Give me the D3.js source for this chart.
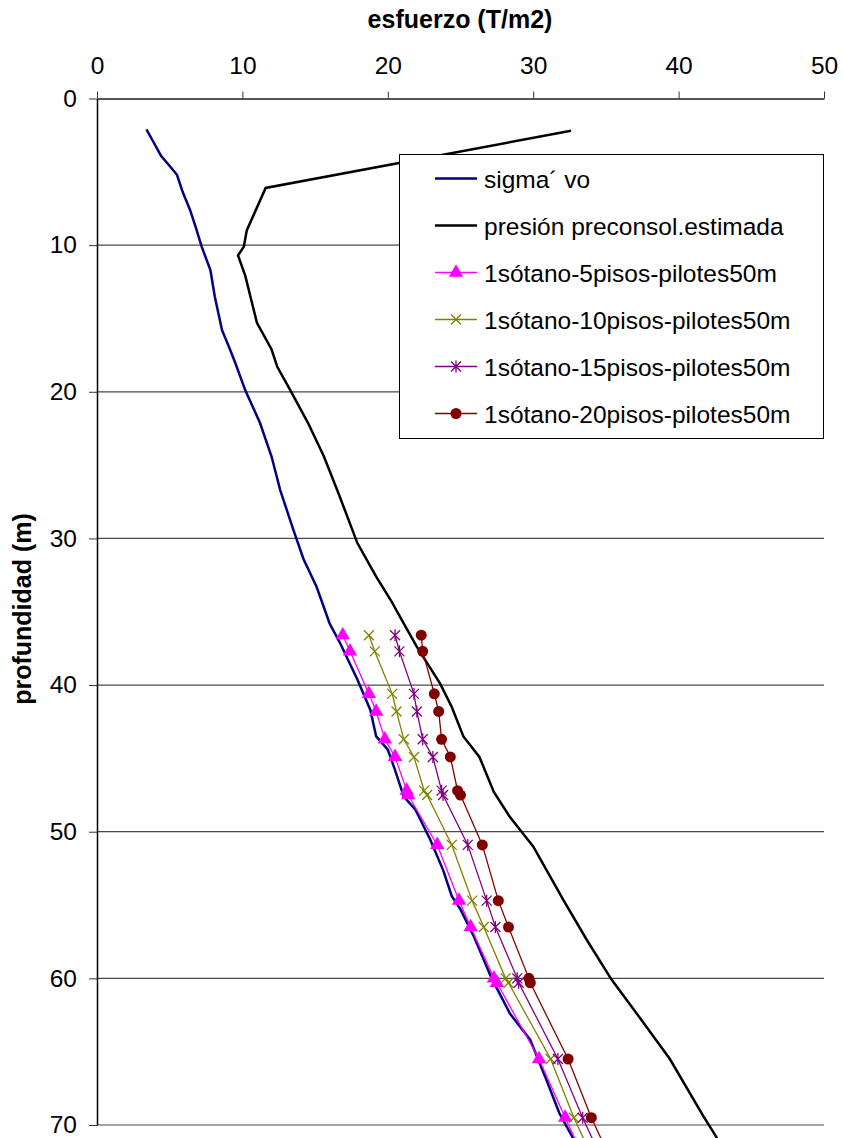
<!DOCTYPE html>
<html><head><meta charset="utf-8">
<script src="https://cdn.jsdelivr.net/npm/d3@7"></script>
<style>body{margin:0;background:#fff}svg{display:block}text{font-family:"Liberation Sans",Arial,sans-serif}</style>
</head><body><svg id="c" width="843" height="1138"></svg>
<script>
const xTicks = [0, 10, 20, 30, 40, 50];
const yTicks = [0, 10, 20, 30, 40, 50, 60, 70];
const xTitle = "esfuerzo (T/m2)";
const yTitle = "profundidad (m)";

const sigmaDepth = [2.1, 3.0, 3.9, 4.6, 5.2, 6.4, 7.6, 8.8, 10.1, 11.7, 13.5, 15.8, 17.0, 18.0, 19.9, 22.1, 24.4, 26.7, 29.4, 31.4, 33.3, 35.8, 37.1, 39.6, 41.7, 43.5, 44.4, 45.8, 47.6, 48.5, 50.5, 52.6, 54.4, 55.3, 57.1, 59.9, 62.4, 64.2, 66.9, 69.2, 71.0, 72.5];
const sigmaVal   = [3.4, 3.9, 4.4, 5.0, 5.5, 5.9, 6.4, 6.8, 7.2, 7.8, 8.1, 8.6, 9.1, 9.5, 10.2, 11.2, 12.0, 12.6, 13.5, 14.2, 15.1, 16.0, 16.7, 17.9, 18.8, 19.2, 20.0, 20.5, 21.1, 21.9, 22.9, 23.8, 24.4, 25.0, 25.9, 27.1, 28.4, 29.8, 30.9, 31.8, 32.8, 33.6];

const preDepth = [2.2, 6.1, 9.0, 10.1, 10.7, 12.1, 15.3, 17.1, 18.3, 19.9, 22.1, 24.4, 26.9, 30.3, 32.6, 34.2, 35.1, 37.4, 39.9, 41.5, 43.5, 44.9, 47.3, 49.0, 51.0, 54.7, 57.4, 60.1, 62.1, 65.5, 69.4, 70.5, 72.5];
const preVal   = [32.6, 11.6, 10.3, 10.1, 9.7, 10.2, 11.0, 12.0, 12.4, 13.3, 14.5, 15.6, 16.6, 17.9, 19.2, 20.2, 20.7, 22.0, 23.6, 24.4, 25.2, 26.3, 27.3, 28.4, 30.0, 32.1, 33.7, 35.4, 36.9, 39.4, 41.7, 42.4, 43.6];

const seriesDepth = [36.6, 37.7, 40.6, 41.8, 43.7, 44.9, 47.2, 47.5, 50.9, 54.7, 56.5, 60.0, 60.3, 65.5, 69.5, 72.5];
const s5pisos  = [16.9, 17.4, 18.7, 19.2, 19.8, 20.5, 21.3, 21.4, 23.4, 24.9, 25.7, 27.3, 27.5, 30.4, 32.2, 33.6];
const s10pisos = [18.7, 19.1, 20.3, 20.6, 21.1, 21.8, 22.5, 22.7, 24.4, 25.8, 26.6, 28.1, 28.3, 31.2, 32.8, 34.2];
const s15pisos = [20.5, 20.8, 21.8, 22.0, 22.4, 23.1, 23.7, 23.8, 25.5, 26.8, 27.4, 28.9, 29.0, 31.7, 33.4, 34.8];
const s20pisos = [22.3, 22.4, 23.2, 23.5, 23.7, 24.3, 24.8, 25.0, 26.5, 27.6, 28.3, 29.7, 29.8, 32.4, 34.0, 35.4];

const seriesNames = ["sigma´ vo", "presión preconsol.estimada", "1sótano-5pisos-pilotes50m", "1sótano-10pisos-pilotes50m", "1sótano-15pisos-pilotes50m", "1sótano-20pisos-pilotes50m"];

const svg = d3.select("#c");
const x = d3.scaleLinear().domain([0, 50]).range([97, 824]);
const y = d3.scaleLinear().domain([0, 70]).range([98.5, 1125]);

// gridlines
svg.append("g").selectAll("line").data(yTicks.filter(d => d > 0)).join("line")
  .attr("x1", x(0)).attr("x2", x(50)).attr("y1", d => y(d)).attr("y2", d => y(d))
  .attr("stroke", "#4a4a4a").attr("stroke-width", 1.2);

// top axis
const gx = svg.append("g").attr("transform", `translate(0,${y(0)})`)
  .call(d3.axisTop(x).tickValues(xTicks).tickSize(7).tickPadding(18).tickSizeOuter(0));
gx.select(".domain").attr("stroke", "#555").attr("stroke-width", 2);
gx.selectAll(".tick line").attr("stroke", "#333");
gx.selectAll("text").attr("font-size", 24.5).attr("fill", "#000").attr("font-family", "Liberation Sans, Arial, sans-serif");

// left axis
const gy = svg.append("g").attr("transform", `translate(${x(0)},0)`)
  .call(d3.axisLeft(y).tickValues(yTicks).tickSize(8).tickPadding(12).tickSizeOuter(0));
gy.select(".domain").attr("stroke", "#000").attr("stroke-width", 1.5);
gy.selectAll(".tick line").attr("stroke", "#333");
gy.selectAll("text").attr("font-size", 24.5).attr("fill", "#000").attr("font-family", "Liberation Sans, Arial, sans-serif");

svg.append("text").attr("x", 460).attr("y", 28).attr("text-anchor", "middle")
  .attr("font-size", 25).attr("font-weight", "bold").text(xTitle);
svg.append("text").attr("transform", "translate(31,609) rotate(-90)").attr("text-anchor", "middle")
  .attr("font-size", 25).attr("font-weight", "bold").text(yTitle);

const line = d3.line().x(d => x(d[0])).y(d => y(d[1]));
const zip = (v, d) => v.map((val, i) => [val, d[i]]);

svg.append("path").attr("d", line(zip(sigmaVal, sigmaDepth))).attr("fill", "none")
  .attr("stroke", "#000080").attr("stroke-width", 2.5);
svg.append("path").attr("d", line(zip(preVal, preDepth))).attr("fill", "none")
  .attr("stroke", "#000").attr("stroke-width", 2.5);

const series = [
  {vals: s5pisos, color: "#FF00FF", marker: "tri"},
  {vals: s10pisos, color: "#808000", marker: "x"},
  {vals: s15pisos, color: "#800080", marker: "star"},
  {vals: s20pisos, color: "#800000", marker: "circle"}
];

function drawMarker(g, type, color) {
  if (type === "tri") {
    g.append("path").attr("d", d3.symbol(d3.symbolTriangle, 90)()).attr("fill", color);
  } else if (type === "x") {
    g.append("path").attr("d", "M-5,-5L5,5M-5,5L5,-5").attr("stroke", color).attr("stroke-width", 1.3).attr("fill", "none");
  } else if (type === "star") {
    g.append("path").attr("d", "M-5,-5L5,5M-5,5L5,-5M0,-6L0,6").attr("stroke", color).attr("stroke-width", 1.3).attr("fill", "none");
  } else {
    g.append("circle").attr("r", 5.5).attr("fill", color);
  }
}

series.forEach(s => {
  const pts = zip(s.vals, seriesDepth);
  svg.append("path").attr("d", line(pts)).attr("fill", "none").attr("stroke", s.color).attr("stroke-width", 1.3);
  pts.forEach(p => {
    const g = svg.append("g").attr("transform", `translate(${x(p[0])},${y(p[1])})`);
    drawMarker(g, s.marker, s.color);
  });
});

// legend
const lg = svg.append("g");
lg.append("rect").attr("x", 399.5).attr("y", 154.5).attr("width", 424).attr("height", 284)
  .attr("fill", "#fff").attr("stroke", "#000").attr("stroke-width", 1);
const legendItems = [
  {color: "#000080", w: 2.5, marker: null},
  {color: "#000", w: 2.5, marker: null},
  {color: "#FF00FF", w: 1.3, marker: "tri"},
  {color: "#808000", w: 1.3, marker: "x"},
  {color: "#800080", w: 1.3, marker: "star"},
  {color: "#800000", w: 1.3, marker: "circle"}
];
legendItems.forEach((it, i) => {
  const cy = 178.5 + i * 47;
  lg.append("line").attr("x1", 435).attr("x2", 477).attr("y1", cy).attr("y2", cy)
    .attr("stroke", it.color).attr("stroke-width", it.w);
  if (it.marker) {
    const g = lg.append("g").attr("transform", `translate(456,${cy})`);
    drawMarker(g, it.marker, it.color);
  }
  lg.append("text").attr("x", 484).attr("y", cy + 9).attr("font-size", 24.5).text(seriesNames[i]);
});
</script></body></html>
